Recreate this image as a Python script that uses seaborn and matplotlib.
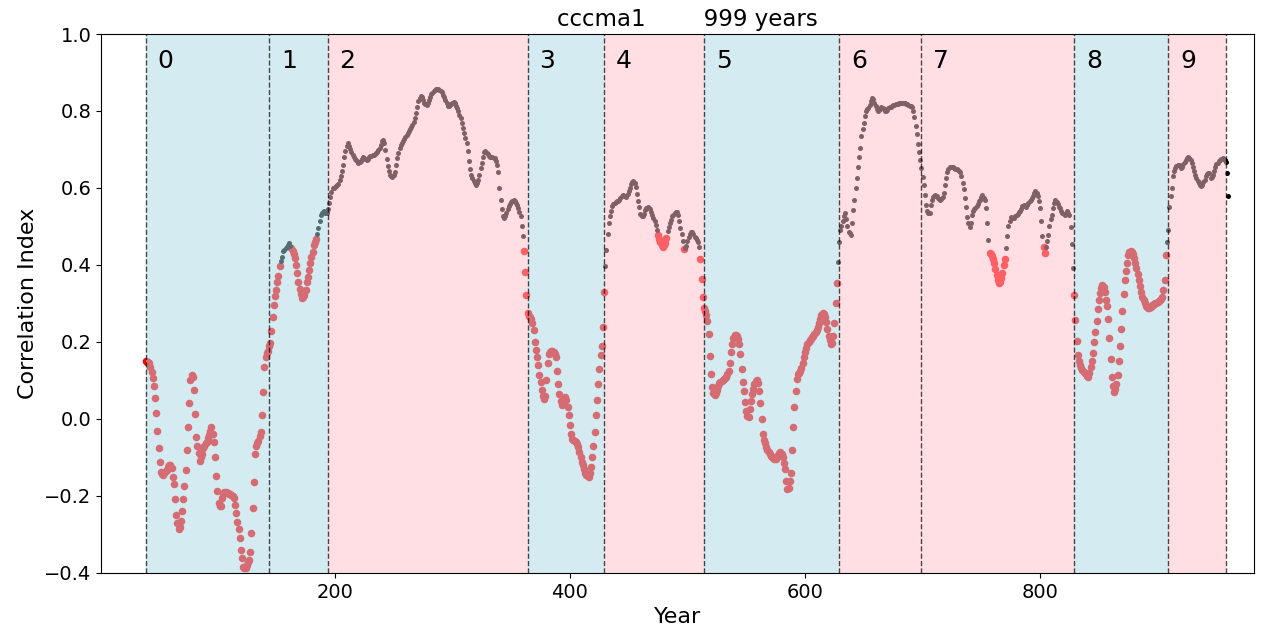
import numpy as np
import pandas as pd
import matplotlib
matplotlib.use("Agg")
import matplotlib.pyplot as plt
import seaborn as sns

# ---------------- data ----------------
model_name = "cccma1"
n_years = 999

# start year of every shaded period, plus the end of the last one
period_bounds = [39, 144, 194, 364, 429, 514, 629, 699, 829, 909, 958.6]
period_labels = ["0", "1", "2", "3", "4", "5", "6", "7", "8", "9"]
period_colors = ["lightblue", "lightblue", "pink", "lightblue", "pink",
                 "lightblue", "pink", "pink", "lightblue", "pink"]

# running correlation index, one value per year, split by period
corr_p0 = [  # 39..143
    0.15, 0.148, 0.147, 0.145, 0.135, 0.123, 0.106, 0.086, 0.054, 0.015,
    -0.031, -0.076, -0.112, -0.137, -0.142, -0.145, -0.14, -0.135, -0.132, -0.125,
    -0.12, -0.119, -0.128, -0.15, -0.169, -0.209, -0.249, -0.27, -0.285, -0.28,
    -0.264, -0.24, -0.208, -0.174, -0.132, -0.081, -0.02, 0.042, 0.1, 0.115,
    0.11, 0.075, 0.013, -0.046, -0.07, -0.089, -0.108, -0.1, -0.09, -0.076,
    -0.07, -0.062, -0.059, -0.05, -0.042, -0.03, -0.02, -0.04, -0.059, -0.1,
    -0.147, -0.188, -0.219, -0.225, -0.225, -0.206, -0.195, -0.189, -0.19, -0.192,
    -0.193, -0.195, -0.196, -0.197, -0.2, -0.206, -0.223, -0.245, -0.267, -0.285,
    -0.31, -0.34, -0.36, -0.384, -0.388, -0.386, -0.379, -0.372, -0.366, -0.345,
    -0.297, -0.232, -0.163, -0.09, -0.07, -0.063, -0.058, -0.045, -0.033, 0.01,
    0.07, 0.135, 0.162, 0.171, 0.177,
]
corr_p1 = [  # 144..193
    0.19, 0.197, 0.229, 0.266, 0.296, 0.319, 0.335, 0.355, 0.371, 0.397,
    0.41, 0.42, 0.437, 0.44, 0.443, 0.447, 0.452, 0.456, 0.45, 0.443,
    0.437, 0.428, 0.417, 0.4, 0.38, 0.355, 0.338, 0.325, 0.315, 0.316,
    0.322, 0.335, 0.355, 0.37, 0.387, 0.405, 0.42, 0.435, 0.452, 0.461,
    0.467, 0.48, 0.495, 0.515, 0.53, 0.535, 0.538, 0.539, 0.536, 0.534,
]
corr_p2 = [  # 194..363
    0.545, 0.56, 0.577, 0.59, 0.599, 0.6, 0.602, 0.605, 0.607, 0.61,
    0.62, 0.63, 0.645, 0.66, 0.68, 0.695, 0.71, 0.716, 0.708, 0.7,
    0.694, 0.687, 0.681, 0.676, 0.672, 0.669, 0.666, 0.667, 0.671, 0.676,
    0.68, 0.678, 0.675, 0.673, 0.676, 0.68, 0.682, 0.684, 0.686, 0.687,
    0.688, 0.69, 0.694, 0.698, 0.703, 0.712, 0.722, 0.725, 0.716, 0.698,
    0.675, 0.658, 0.645, 0.635, 0.63, 0.629, 0.633, 0.642, 0.66, 0.677,
    0.692, 0.704, 0.712, 0.718, 0.723, 0.727, 0.733, 0.738, 0.743, 0.749,
    0.753, 0.758, 0.763, 0.772, 0.782, 0.795, 0.811, 0.825, 0.834, 0.838,
    0.836, 0.828, 0.822, 0.818, 0.816, 0.822, 0.829, 0.837, 0.843, 0.848,
    0.852, 0.855, 0.856, 0.856, 0.856, 0.854, 0.851, 0.849, 0.842, 0.836,
    0.828, 0.82, 0.812, 0.812, 0.815, 0.818, 0.822, 0.824, 0.82, 0.814,
    0.808, 0.8, 0.79, 0.781, 0.768, 0.755, 0.742, 0.73, 0.718, 0.695,
    0.67, 0.65, 0.635, 0.625, 0.617, 0.612, 0.609, 0.612, 0.62, 0.635,
    0.651, 0.666, 0.68, 0.693, 0.697, 0.692, 0.688, 0.683, 0.68, 0.681,
    0.681, 0.679, 0.677, 0.671, 0.66, 0.642, 0.6, 0.569, 0.545, 0.528,
    0.521, 0.527, 0.535, 0.545, 0.552, 0.558, 0.563, 0.566, 0.569, 0.567,
    0.562, 0.555, 0.547, 0.538, 0.526, 0.501, 0.475, 0.436, 0.383, 0.322,
]
corr_p3 = [  # 364..428
    0.275, 0.268, 0.265, 0.26, 0.25, 0.23, 0.2, 0.18, 0.16, 0.14,
    0.115, 0.095, 0.075, 0.06, 0.052, 0.06, 0.1, 0.145, 0.168, 0.175,
    0.177, 0.176, 0.174, 0.168, 0.16, 0.125, 0.09, 0.065, 0.048, 0.036,
    0.045, 0.052, 0.058, 0.05, 0.032, 0.01, -0.015, -0.04, -0.052, -0.055,
    -0.056, -0.06, -0.066, -0.072, -0.085, -0.1, -0.112, -0.12, -0.13, -0.14,
    -0.146, -0.149, -0.15, -0.14, -0.125, -0.1, -0.07, -0.035, 0.01, 0.05,
    0.09, 0.13, 0.165, 0.19, 0.24,
]
corr_p4 = [  # 429..513
    0.331, 0.397, 0.44, 0.48, 0.51, 0.526, 0.54, 0.552, 0.558, 0.561,
    0.563, 0.565, 0.567, 0.57, 0.574, 0.578, 0.582, 0.58, 0.578, 0.577,
    0.585, 0.593, 0.6, 0.61, 0.615, 0.619, 0.614, 0.603, 0.585, 0.565,
    0.55, 0.532, 0.527, 0.526, 0.533, 0.542, 0.549, 0.55, 0.548, 0.545,
    0.538, 0.53, 0.522, 0.513, 0.503, 0.49, 0.478, 0.467, 0.46, 0.452,
    0.448, 0.452, 0.458, 0.469, 0.488, 0.498, 0.508, 0.518, 0.526, 0.531,
    0.535, 0.538, 0.537, 0.53, 0.515, 0.497, 0.48, 0.462, 0.441, 0.445,
    0.45, 0.462, 0.472, 0.481, 0.486, 0.487, 0.48, 0.473, 0.469, 0.466,
    0.461, 0.448, 0.415, 0.364, 0.316,
]
corr_p5 = [  # 514..628
    0.288, 0.28, 0.27, 0.255, 0.22, 0.164, 0.117, 0.084, 0.068, 0.062,
    0.068, 0.076, 0.085, 0.093, 0.097, 0.099, 0.1, 0.103, 0.106, 0.11,
    0.116, 0.125, 0.145, 0.175, 0.195, 0.21, 0.217, 0.218, 0.215, 0.207,
    0.195, 0.168, 0.13, 0.095, 0.072, 0.045, 0.022, 0.008, 0.005, 0.025,
    0.048, 0.065, 0.078, 0.092, 0.099, 0.101, 0.094, 0.072, 0.042, 0.0,
    -0.04, -0.055, -0.062, -0.072, -0.08, -0.086, -0.092, -0.096, -0.1, -0.102,
    -0.105, -0.103, -0.1, -0.093, -0.088, -0.085, -0.09, -0.1, -0.115, -0.13,
    -0.16, -0.183, -0.18, -0.16, -0.14, -0.08, -0.02, 0.03, 0.074, 0.103,
    0.116, 0.119, 0.125, 0.132, 0.145, 0.16, 0.175, 0.185, 0.195, 0.2,
    0.204, 0.208, 0.212, 0.216, 0.22, 0.226, 0.232, 0.24, 0.25, 0.26,
    0.27, 0.275, 0.274, 0.266, 0.252, 0.233, 0.215, 0.205, 0.195, 0.198,
    0.215, 0.25, 0.3, 0.352, 0.409,
]
corr_p6 = [  # 629..698
    0.461, 0.49, 0.5, 0.515, 0.528, 0.534, 0.52, 0.5, 0.487, 0.482,
    0.478, 0.51, 0.543, 0.57, 0.6, 0.625, 0.655, 0.68, 0.705, 0.735,
    0.752, 0.77, 0.788, 0.8, 0.805, 0.808, 0.815, 0.826, 0.834, 0.83,
    0.82, 0.812, 0.805, 0.8, 0.802, 0.806, 0.81, 0.808, 0.804, 0.801,
    0.8, 0.803, 0.807, 0.81, 0.811, 0.813, 0.815, 0.816, 0.817, 0.818,
    0.819, 0.82, 0.82, 0.821, 0.821, 0.82, 0.82, 0.819, 0.818, 0.816,
    0.814, 0.812, 0.81, 0.8, 0.785, 0.76, 0.74, 0.715, 0.694, 0.673,
]
corr_p7 = [  # 699..828
    0.651, 0.629, 0.608, 0.582, 0.556, 0.539, 0.535, 0.534, 0.555, 0.568,
    0.577, 0.58, 0.582, 0.578, 0.573, 0.571, 0.569, 0.572, 0.577, 0.588,
    0.608, 0.625, 0.642, 0.65, 0.655, 0.655, 0.655, 0.654, 0.652, 0.65,
    0.649, 0.647, 0.645, 0.641, 0.63, 0.614, 0.598, 0.575, 0.55, 0.525,
    0.51, 0.498, 0.51, 0.53, 0.541, 0.545, 0.549, 0.553, 0.559, 0.565,
    0.57, 0.576, 0.582, 0.575, 0.569, 0.548, 0.51, 0.465, 0.432, 0.428,
    0.424, 0.415, 0.404, 0.39, 0.375, 0.36, 0.353, 0.357, 0.366, 0.38,
    0.4, 0.415, 0.443, 0.475, 0.5, 0.515, 0.525, 0.523, 0.521, 0.523,
    0.526, 0.529, 0.533, 0.537, 0.541, 0.546, 0.553, 0.556, 0.553, 0.551,
    0.556, 0.56, 0.565, 0.569, 0.574, 0.579, 0.586, 0.593, 0.588, 0.578,
    0.565, 0.548, 0.515, 0.475, 0.448, 0.432, 0.448, 0.462, 0.478, 0.5,
    0.52, 0.53, 0.549, 0.562, 0.569, 0.564, 0.558, 0.551, 0.547, 0.54,
    0.535, 0.532, 0.53, 0.534, 0.539, 0.535, 0.53, 0.499, 0.454, 0.393,
]
corr_p8 = [  # 829..908
    0.322, 0.257, 0.203, 0.166, 0.15, 0.14, 0.133, 0.128, 0.123, 0.12,
    0.116, 0.112, 0.11, 0.12, 0.136, 0.15, 0.172, 0.2, 0.225, 0.255,
    0.285, 0.31, 0.326, 0.34, 0.348, 0.344, 0.33, 0.31, 0.293, 0.26,
    0.21, 0.155, 0.11, 0.085, 0.071, 0.078, 0.092, 0.115, 0.15, 0.19,
    0.235, 0.28, 0.325, 0.36, 0.385, 0.405, 0.425, 0.434, 0.437, 0.435,
    0.428, 0.418, 0.405, 0.392, 0.376, 0.36, 0.346, 0.33, 0.318, 0.308,
    0.3, 0.294, 0.291, 0.289, 0.288, 0.29, 0.295, 0.297, 0.298, 0.3,
    0.302, 0.304, 0.306, 0.308, 0.312, 0.318, 0.335, 0.36, 0.426, 0.46,
]
corr_p9 = [  # 909..960
    0.491, 0.55, 0.58, 0.6, 0.631, 0.645, 0.652, 0.656, 0.659, 0.66,
    0.656, 0.652, 0.655, 0.662, 0.668, 0.673, 0.677, 0.68, 0.678, 0.673,
    0.665, 0.655, 0.645, 0.633, 0.625, 0.617, 0.612, 0.608, 0.605, 0.608,
    0.615, 0.622, 0.632, 0.637, 0.64, 0.638, 0.627, 0.628, 0.635, 0.645,
    0.655, 0.662, 0.666, 0.669, 0.673, 0.675, 0.676, 0.677, 0.674, 0.668,
    0.64, 0.579,
]
corr_by_period = [corr_p0, corr_p1, corr_p2, corr_p3, corr_p4,
                  corr_p5, corr_p6, corr_p7, corr_p8, corr_p9]

# year ranges (inclusive) in which the point is flagged (red)
flag_ranges = [(39, 153), (163, 184), (361, 429), (475, 482), (497, 497),
               (511, 627), (757, 770), (803, 804), (829, 907)]

# ---------------- build table ----------------
years, vals = [], []
for start, seg in zip(period_bounds[:-1], corr_by_period):
    for i, v in enumerate(seg):
        years.append(int(start) + i)
        vals.append(v)
df = pd.DataFrame({"Year": years, "Correlation Index": vals})
df["flag"] = False
for a, b in flag_ranges:
    df.loc[(df["Year"] >= a) & (df["Year"] <= b), "flag"] = True

# ---------------- plot ----------------
fig = plt.figure(figsize=(12.66, 6.31), dpi=100)
ax = fig.add_axes([101 / 1266, 1 - 573 / 631, (1254 - 101) / 1266, (573 - 34) / 631])

sns.scatterplot(data=df[df["flag"]], x="Year", y="Correlation Index",
                color="red", s=30, linewidth=0, ax=ax, zorder=1)
sns.scatterplot(data=df[~df["flag"]], x="Year", y="Correlation Index",
                color="black", s=13, linewidth=0, ax=ax, zorder=1)

for i, lab in enumerate(period_labels):
    x0, x1 = period_bounds[i], period_bounds[i + 1]
    ax.axvspan(x0, x1, color=period_colors[i], alpha=0.5, lw=0, zorder=2)
    ax.text(x0 + 10, 0.93, lab, fontsize=18, ha="left", va="center", zorder=4)
for b in period_bounds:
    ax.axvline(b, color="black", ls="--", lw=1, alpha=0.7, zorder=3)

ax.set_xlim(1, 982)
ax.set_ylim(-0.4, 1.0)
ax.set_xticks([200, 400, 600, 800])
ax.set_yticks([-0.4, -0.2, 0.0, 0.2, 0.4, 0.6, 0.8, 1.0])
ax.tick_params(labelsize=14)
ax.set_xlabel("Year", fontsize=16)
ax.set_ylabel("Correlation Index", fontsize=16)
title = ax.set_title(f"{model_name}        {n_years} years", fontsize=16.5)
title.set_x(0.5087)

fig.savefig("out.png", dpi=100)
